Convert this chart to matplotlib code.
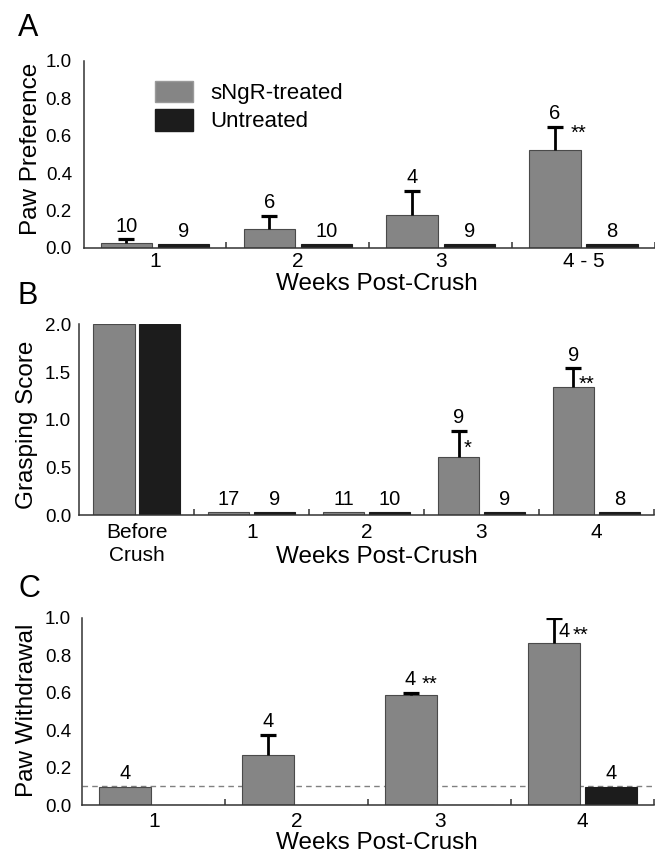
import numpy as np
from matplotlib import pyplot as plt
from matplotlib.patches import Patch

plt.rcParams["font.family"] = ["Liberation Sans", "DejaVu Sans"]

GRAY = "#858585"
BLACK = "#1c1c1c"
nan = np.nan

# Panel A: paw preference
a_weeks = ["1", "2", "3", "4 - 5"]
a_treated = [0.023, 0.098, 0.175, 0.523]
a_treated_err = [0.022, 0.072, 0.13, 0.123]
a_untreated = [0.018, 0.018, 0.018, 0.018]
a_treated_n = ["10", "6", "4", "6"]
a_untreated_n = ["9", "10", "9", "8"]

# Panel B: grasping score
b_weeks = ["Before\nCrush", "1", "2", "3", "4"]
b_treated = [2.0, 0.03, 0.03, 0.607, 1.34]
b_treated_err = [nan, nan, nan, 0.28, 0.20]
b_untreated = [2.0, 0.03, 0.03, 0.03, 0.03]
b_treated_n = ["", "17", "11", "9", "9"]
b_untreated_n = ["", "9", "10", "9", "8"]

# Panel C: paw withdrawal
c_weeks = ["1", "2", "3", "4"]
c_treated = [0.10, 0.27, 0.588, 0.863]
c_treated_err = [nan, 0.105, 0.009, 0.137]
c_untreated = [0.0, 0.0, 0.0, 0.10]
c_untreated_n = ["", "", "", "4"]
c_baseline = 0.105

fig = plt.figure(figsize=(6.55, 8.55), dpi=100)


def setup(ax, labels, ylim, yticks, ylabel, ylabel_pos, xlabel_pos, xpad, ypad):
    n = len(labels)
    ax.set_xlim(0.5, n + 0.5)
    ax.set_ylim(*ylim)
    ax.set_xticks(np.arange(1, n + 1))
    ax.set_xticklabels(labels, fontsize=15, linespacing=1.3)
    ax.set_xticks(np.arange(1.5, n + 0.6, 1), minor=True)
    ax.tick_params(axis="x", which="major", length=0, pad=xpad)
    ax.tick_params(axis="x", which="minor", length=4, width=1.1,
                   direction="in", color="#333333")
    ax.set_yticks(yticks)
    ax.set_yticklabels([f"{t:.1f}" for t in yticks], fontsize=13.5)
    ax.tick_params(axis="y", length=0, pad=ypad)
    for s in ["top", "right"]:
        ax.spines[s].set_visible(False)
    for s in ["left", "bottom"]:
        ax.spines[s].set_color("#333333")
        ax.spines[s].set_linewidth(1.1)
    ax.set_ylabel(ylabel, fontsize=17.5, va="center")
    ax.yaxis.set_label_coords(*ylabel_pos)
    ax.set_xlabel("Weeks Post-Crush", fontsize=17.5, va="center")
    ax.xaxis.set_label_coords(*xlabel_pos)


def bars(ax, treated, untreated, err):
    x = np.arange(1, len(treated) + 1)
    ax.bar(x - 0.2, treated, 0.36, color=GRAY, edgecolor="#4a4a4a",
           linewidth=0.8, zorder=2)
    ax.bar(x + 0.2, untreated, 0.36, color=BLACK, edgecolor=BLACK,
           linewidth=0.8, zorder=2)
    # upper error bars only
    top = np.array(treated) + np.array(err)
    ax.vlines(x - 0.2, treated, top, color="black", linewidth=2.0, zorder=3)
    ax.plot(x - 0.2, top, ls="none", marker="_", markersize=12,
            markeredgewidth=2.3, color="black", zorder=3)
    return x


def label(ax, txt, x, y, dx=0, dy=5.5, size=14.5):
    ax.annotate(txt, xy=(x, y), xytext=(dx, dy), textcoords="offset points",
                ha="center", va="baseline", fontsize=size)


# ---- A ----
axA = fig.add_axes([0.1275, 0.7103, 0.8725, 0.2184])
setup(axA, a_weeks, (0, 1.0), [0.0, 0.2, 0.4, 0.6, 0.8, 1.0],
      "Paw Preference", (-0.092, 0.53), (0.514, -0.194), 3, 8.3)
x = bars(axA, a_treated, a_untreated, a_treated_err)
for i in range(len(x)):
    top = a_treated[i] + a_treated_err[i]
    label(axA, a_treated_n[i], x[i] - 0.2, top)
    label(axA, a_untreated_n[i], x[i] + 0.2, a_untreated[i])
label(axA, "**", x[3] - 0.2, a_treated[3] + a_treated_err[3], dx=17, dy=-8.6)
axA.legend(handles=[Patch(facecolor=GRAY, edgecolor="#9a9a9a", label="sNgR-treated"),
                    Patch(facecolor=BLACK, edgecolor=BLACK, label="Untreated")],
           loc="upper left", bbox_to_anchor=(0.125, 0.895), frameon=False,
           fontsize=16, handlelength=1.71, handleheight=1.13,
           handletextpad=0.8, labelspacing=0.22, borderpad=0, borderaxespad=0)

# ---- B ----
axB = fig.add_axes([0.1212, 0.3973, 0.877, 0.2234])
setup(axB, b_weeks, (0, 2.0), [0.0, 0.5, 1.0, 1.5, 2.0],
      "Grasping Score", (-0.092, 0.473), (0.518, -0.218), 5.5, 6)
x = bars(axB, b_treated, b_untreated, b_treated_err)
for i in range(1, len(x)):
    e = b_treated_err[i]
    top = b_treated[i] + (0 if np.isnan(e) else e)
    label(axB, b_treated_n[i], x[i] - 0.2, top)
    label(axB, b_untreated_n[i], x[i] + 0.2, b_untreated[i])
label(axB, "*", x[3] - 0.2, b_treated[3] + b_treated_err[3], dx=6.4, dy=-16.6)
label(axB, "**", x[4] - 0.2, b_treated[4] + b_treated_err[4], dx=9.5, dy=-15.4)

# ---- C ----
axC = fig.add_axes([0.1256, 0.0581, 0.8728, 0.2194])
setup(axC, c_weeks, (0, 1.0), [0.0, 0.2, 0.4, 0.6, 0.8, 1.0],
      "Paw Withdrawal", (-0.097, 0.508), (0.5155, -0.2), 4.5, 8)
axC.axhline(c_baseline, color="#808080", linewidth=1.0, dashes=(4, 3), zorder=1)
x = bars(axC, c_treated, c_untreated, c_treated_err)
label(axC, "4", x[0] - 0.2, c_treated[0])
label(axC, "4", x[1] - 0.2, c_treated[1] + c_treated_err[1])
top3 = c_treated[2] + c_treated_err[2]
label(axC, "4", x[2] - 0.2, top3, dx=-0.7, dy=5.8)
label(axC, "**", x[2] - 0.2, top3, dx=13, dy=2.7)
top4 = c_treated[3] + c_treated_err[3]
label(axC, "4", x[3] - 0.2, top4, dx=7, dy=-14)
label(axC, "**", x[3] - 0.2, top4, dx=19, dy=-16.4)
label(axC, c_untreated_n[3], x[3] + 0.2, c_untreated[3])

# panel letters
for letter, ypx in [("A", 27.5), ("B", 296), ("C", 589)]:
    fig.text(18 / 655, 1 - ypx / 855, letter, fontsize=22, ha="left", va="center")

fig.savefig("out.png", dpi=100)
